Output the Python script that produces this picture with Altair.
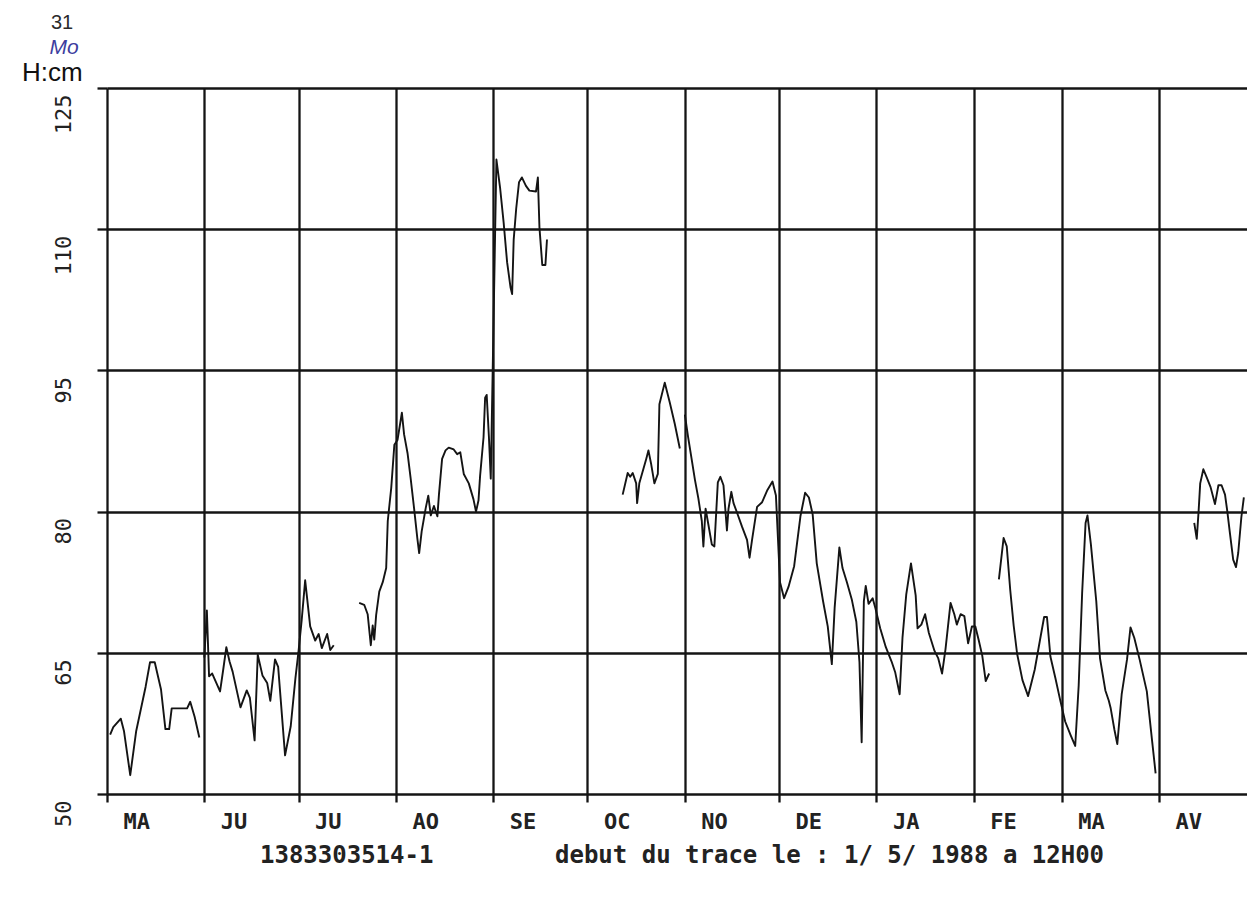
import altair as alt
import pandas as pd

# ---------------- data (H in cm) ----------------
# DAY = day of month (fractional), H = water level in cm
MAY88_DAY = [2.0, 3.0, 5.4, 6.4, 8.4, 10.3, 13.3, 14.7, 16.2, 18.2, 19.6, 20.8, 21.6, 26.5, 27.5, 28.9, 30.4]
MAY88_H = [56.3, 57.1, 58.0, 56.7, 52.0, 56.7, 61.4, 64.0, 64.0, 61.1, 56.9, 56.9, 59.1, 59.1, 59.8, 58.2, 56.0]

JUN88_DAY = [1.0, 1.8, 2.5, 3.5, 6.0, 7.0, 8.0, 9.0, 10.0, 12.5, 14.5, 15.5, 17.0, 18.0, 19.5, 21.0, 22.0, 23.5, 24.5, 26.7, 28.5, 30.0]
JUN88_H = [64.5, 69.5, 62.5, 62.8, 60.9, 63.2, 65.6, 64.1, 63.0, 59.2, 61.0, 60.2, 55.7, 64.8, 62.6, 61.8, 59.9, 64.3, 63.5, 54.1, 57.2, 62.3]

JUL88A_DAY = [1.0, 2.0, 3.1, 4.7, 6.3, 7.4, 8.4, 10.1, 11.1, 12.2]
JUL88A_H = [65.2, 68.5, 72.7, 67.8, 66.3, 67.0, 65.5, 67.0, 65.3, 65.8]

JUL88B_DAY = [20.3, 21.9, 23.0, 24.0, 24.6, 25.1, 25.7, 26.7, 27.8, 28.9, 29.4, 30.5, 31.5]
JUL88B_H = [70.3, 70.1, 69.1, 65.8, 67.9, 66.4, 69.0, 71.5, 72.5, 74.0, 79.0, 82.5, 87.1]

AUG88_DAY = [1.5, 2.9, 3.6, 4.7, 5.7, 6.8, 7.8, 8.4, 9.2, 10.5, 11.3, 12.1, 13.1, 14.2, 14.7, 15.7,
             16.8, 17.8, 19.4, 20.5, 21.5, 22.6, 24.2, 25.7, 26.5, 27.3, 27.8, 28.9, 29.4, 29.9, 30.6, 31.2]
AUG88_H = [87.6, 90.5, 88.2, 86.2, 83.5, 80.3, 77.2, 75.6, 77.9, 80.4, 81.7, 79.6, 80.6, 79.5, 81.8, 85.6,
           86.5, 86.8, 86.6, 86.1, 86.3, 84.0, 83.0, 81.3, 80.0, 81.2, 83.8, 87.9, 92.1, 92.4, 88.0, 83.5]

SEP88_DAY = [2.0, 3.2, 4.3, 5.4, 6.5, 7.0, 7.5, 8.3, 9.2, 10.1, 11.4, 12.5, 14.6, 15.2, 15.7, 16.6, 17.6, 18.1]
SEP88_H = [117.4, 114.3, 110.7, 106.5, 103.8, 103.1, 108.9, 112.2, 115.0, 115.5, 114.6, 114.1, 114.0, 115.5,
           110.2, 106.2, 106.2, 108.9]

OCT88_DAY = [12.2, 13.8, 14.6, 15.4, 16.5, 16.8, 17.5, 19.7, 20.4, 21.3, 22.3, 23.4, 23.9, 25.6, 27.2, 28.8, 30.4]
OCT88_H = [81.8, 84.1, 83.7, 84.1, 83.0, 80.9, 83.0, 85.6, 86.5, 85.0, 83.0, 84.0, 91.4, 93.7, 91.6, 89.3, 86.7]

NOV88_DAY = [1.0, 2.0, 3.1, 4.2, 5.3, 6.4, 6.9, 7.6, 8.5, 9.6, 10.4, 11.5, 12.3, 13.3, 14.4, 14.9, 15.8,
             16.5, 17.6, 19.2, 20.8, 21.6, 22.4, 24.0, 25.6, 27.3, 28.9, 30.0]
NOV88_H = [90.3, 88.0, 85.7, 83.4, 81.4, 79.0, 76.3, 80.3, 78.6, 76.5, 76.3, 83.1, 83.7, 82.8, 78.0, 80.3, 82.1,
           80.9, 79.9, 78.4, 77.0, 75.1, 77.0, 80.5, 81.0, 82.3, 83.2, 81.7]

DEC88_DAY = [1.3, 2.6, 4.0, 5.8, 7.8, 9.3, 10.5, 11.7, 13.0, 15.0, 16.5, 17.8, 18.7, 20.2, 21.2, 22.6, 24.2,
             25.6, 26.6, 27.3, 28.0, 28.6, 29.5, 30.8, 31.7]
DEC88_H = [72.5, 70.8, 72.0, 74.2, 79.5, 82.0, 81.5, 79.7, 74.5, 70.5, 67.8, 63.8, 69.8, 76.2, 74.0, 72.5, 70.6,
           68.3, 64.0, 55.5, 70.5, 72.1, 70.2, 70.8, 69.7]

JAN89_DAY = [2.2, 4.0, 5.8, 7.0, 8.4, 9.3, 10.5, 12.0, 13.5, 14.1, 15.3, 16.5, 17.7, 19.5, 20.7, 21.9, 23.0,
             24.6, 25.8, 26.6, 27.8, 29.0, 30.2, 31.4]
JAN89_H = [67.6, 65.6, 64.1, 62.9, 60.6, 66.6, 71.2, 74.5, 71.1, 67.6, 68.0, 69.1, 67.1, 65.2, 64.4, 62.8, 65.4,
           70.3, 69.1, 68.0, 69.1, 68.9, 66.0, 67.8]

FEB89A_DAY = [1.5, 2.6, 3.7, 4.8, 5.9]
FEB89A_H = [67.8, 66.3, 64.7, 62.0, 62.8]

FEB89B_DAY = [9.0, 10.5, 11.5, 12.6, 13.7, 14.8, 16.5, 18.3, 20.4, 22.0, 23.4, 24.3, 25.4, 27.0, 28.5]
FEB89B_H = [72.8, 77.2, 76.3, 71.7, 67.9, 64.9, 62.1, 60.4, 63.2, 66.2, 68.8, 68.8, 64.6, 62.3, 60.0]

MAR89_DAY = [2.1, 3.9, 5.3, 6.4, 7.5, 8.6, 9.2, 10.3, 12.0, 13.2, 14.9, 16.0, 16.6, 17.8, 18.7, 20.1, 21.8,
             22.9, 24.1, 25.8, 28.1, 29.8, 30.9]
MAR89_H = [57.7, 56.2, 55.1, 61.5, 71.3, 78.8, 79.6, 76.5, 70.5, 64.4, 61.0, 59.9, 59.1, 56.8, 55.3, 60.6, 64.3,
           67.7, 66.6, 64.3, 60.9, 55.6, 52.2]

APR89_DAY = [12.2, 13.0, 13.6, 14.1, 15.1, 16.2, 17.4, 18.8, 19.9, 20.9, 22.0, 22.7, 23.6, 24.6, 25.5, 26.2, 27.2, 28.0]
APR89_H = [78.8, 77.1, 80.1, 83.0, 84.5, 83.6, 82.6, 80.8, 82.8, 82.8, 81.8, 80.1, 77.6, 74.9, 74.1, 75.6, 79.4, 81.5]

# (trace piece id, month start, days, levels)
PIECES = [
    (1, "1988-05-01", MAY88_DAY, MAY88_H),
    (2, "1988-06-01", JUN88_DAY, JUN88_H),
    (2, "1988-07-01", JUL88A_DAY, JUL88A_H),
    (3, "1988-07-01", JUL88B_DAY, JUL88B_H),
    (3, "1988-08-01", AUG88_DAY, AUG88_H),
    (3, "1988-09-01", SEP88_DAY, SEP88_H),
    (4, "1988-10-01", OCT88_DAY, OCT88_H),
    (5, "1988-11-01", NOV88_DAY, NOV88_H),
    (5, "1988-12-01", DEC88_DAY, DEC88_H),
    (5, "1989-01-01", JAN89_DAY, JAN89_H),
    (5, "1989-02-01", FEB89A_DAY, FEB89A_H),
    (6, "1989-02-01", FEB89B_DAY, FEB89B_H),
    (6, "1989-03-01", MAR89_DAY, MAR89_H),
    (7, "1989-04-01", APR89_DAY, APR89_H),
]

MONTH_STARTS = ["1988-05-01", "1988-06-01", "1988-07-01", "1988-08-01", "1988-09-01", "1988-10-01",
                "1988-11-01", "1988-12-01", "1989-01-01", "1989-02-01", "1989-03-01", "1989-04-01"]
MONTH_LABELS = ["MA", "JU", "JU", "AO", "SE", "OC", "NO", "DE", "JA", "FE", "MA", "AV"]
X_DOMAIN = ["1988-05-01", "1989-04-29"]
Y_TICKS = [50, 65, 80, 95, 110, 125]

HEADER_NUM = "31"
HEADER_MO = "Mo"
Y_TITLE = "H:cm"
STATION = "1383303514-1"
START_NOTE = "debut du trace le :  1/ 5/ 1988 a 12H00"


def ms(s):
    return int(pd.Timestamp(s, tz="UTC").value // 10**6)


rows = []
for piece, start, days, levels in PIECES:
    t0 = pd.Timestamp(start, tz="UTC")
    for d, h in zip(days, levels):
        t = t0 + pd.Timedelta(days=d - 1)
        rows.append({"t": int(t.value // 10**6), "H": h, "piece": piece})
df = pd.DataFrame(rows)

label_by_month = [""] * 12
for s, lab in zip(MONTH_STARTS, MONTH_LABELS):
    label_by_month[pd.Timestamp(s).month - 1] = lab
label_expr = "[" + ",".join("'" + l + "'" for l in label_by_month) + "][utcmonth(datum.value)]"

W, H = 1140, 706
INK = "#141414"
MONO = "DejaVu Sans Mono"

x_enc = alt.X(
    "t:T",
    scale=alt.Scale(type="utc", domain=[ms(X_DOMAIN[0]), ms(X_DOMAIN[1])]),
    axis=alt.Axis(
        values=[ms(s) for s in MONTH_STARTS],
        labelExpr=label_expr,
        title=None,
        grid=True, gridColor=INK, gridWidth=2.3, gridOpacity=1,
        domain=False,
        ticks=True, tickSize=8, tickWidth=2.3, tickColor=INK,
        labelFont=MONO, labelFontSize=22, labelFontWeight="bold", labelColor="#222",
        labelAlign="left", labelBaseline="top", labelOffset=16, labelPadding=9,
        labelFlush=False, labelOverlap=False, labelBound=False,
    ),
)
y_enc = alt.Y(
    "H:Q",
    scale=alt.Scale(domain=[50, 125], nice=False, zero=False),
    axis=alt.Axis(
        values=Y_TICKS,
        title=None,
        grid=True, gridColor=INK, gridWidth=2.3, gridOpacity=1,
        domain=False,
        ticks=True, tickSize=10, tickWidth=2.3, tickColor=INK,
        labelFont=MONO, labelFontSize=22, labelColor="#222",
        labelAngle=270, labelAlign="right", labelBaseline="bottom",
        labelOffset=6, labelPadding=22,
        labelFlush=False, labelOverlap=False, labelBound=False,
    ),
)

trace = alt.Chart(df).mark_line(color=INK, strokeWidth=1.9, clip=True, strokeJoin="round").encode(
    x=x_enc, y=y_enc, detail="piece:N"
)


def note(text, x, y, **style):
    return alt.Chart(pd.DataFrame({"s": [text]})).mark_text(**style).encode(
        x=alt.value(x), y=alt.value(y), text="s:N"
    )


notes = [
    note(HEADER_NUM, -45, -65, font="Liberation Sans", fontSize=20, color="#2a2a2a", align="center", baseline="middle"),
    note(HEADER_MO, -43, -40, font="Liberation Sans", fontSize=21, fontStyle="italic", color="#3d3d9e",
         align="center", baseline="middle"),
    note(Y_TITLE, -85, -15, font="Liberation Sans", fontSize=26, color="#111", align="left", baseline="middle"),
    note(STATION, 153, H + 62, font=MONO, fontSize=24, fontWeight="bold", color="#222", align="left",
         baseline="middle"),
    note(START_NOTE, 448, H + 62, font=MONO, fontSize=24, fontWeight="bold", color="#222", align="left",
         baseline="middle"),
]

chart = alt.layer(trace, *notes).properties(
    width=W, height=H,
    padding={"left": 99, "top": 80, "right": 0, "bottom": 100},
    autosize=alt.AutoSizeParams(type="none"),
    background="white",
).configure_view(strokeWidth=0)

chart.save("out.html", embed_options={"renderer": "svg", "actions": False})
